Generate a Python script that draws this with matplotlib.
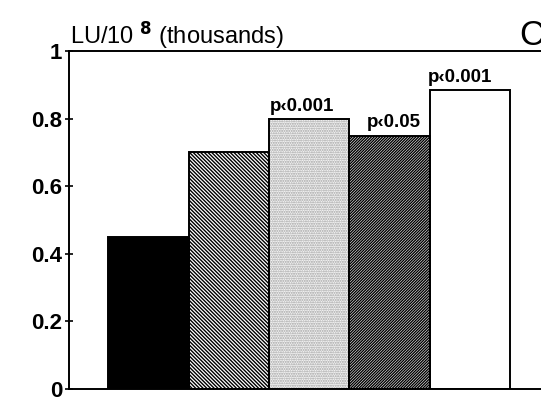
import matplotlib.pyplot as plt

plt.rcParams['font.family'] = ['Liberation Sans', 'DejaVu Sans']
plt.rcParams['mathtext.default'] = 'regular'
plt.rcParams['hatch.linewidth'] = 1.0

# data
values = [0.45, 0.70, 0.80, 0.75, 0.885]
pvals = ['', '', 'p\u20390.001', 'p\u20390.05', 'p\u20390.001']
yticks = [0, 0.2, 0.4, 0.6, 0.8, 1]
yticklabels = ['0', '0.2', '0.4', '0.6', '0.8', '1']

# styles
faces = ['black', 'white', '#f4f4f4', 'white', 'white']
hatches = ['', '\\' * 9, '.' * 7, '/' * 12, '']
hatch_cols = ['black', 'black', '#a0a0a0', 'black', 'black']
label_dx = [0, 0, -0.09, 0.05, -0.12]

W, H = 541, 399
fig = plt.figure(figsize=(W / 100, H / 100), dpi=100)
ax = fig.add_axes([69 / W, (H - 389) / H, 1 - 69 / W + 0.01, 338 / H])

x = range(len(values))
ax.bar(x, values, width=1.0, color=faces, edgecolor=hatch_cols,
       hatch=hatches, linewidth=0)
ax.bar(x, values, width=1.0, fill=False, edgecolor='black', linewidth=1.4)

for i, (v, p) in enumerate(zip(values, pvals)):
    if p:
        ax.text(i + label_dx[i], v + 0.012, p, ha='center', va='bottom',
                fontsize=13.5, fontweight='bold')

ax.set_xlim(-0.99, 4.95)
ax.set_ylim(0, 1)
ax.set_yticks(yticks)
ax.set_yticklabels(yticklabels, fontsize=16, fontweight='bold')
ax.set_xticks([])
ax.tick_params(axis='y', direction='inout', length=6, width=1.2, pad=2)
ax.spines['right'].set_visible(False)
for s in ['left', 'bottom', 'top']:
    ax.spines[s].set_linewidth(1.4)

fig.text(70 / W, (H - 44) / H, 'LU/10 $^{\\bf{8}}$ (thousands)', fontsize=17,
         ha='left', va='baseline')
fig.text(519 / W, (H - 45) / H, 'C', fontsize=25, ha='left', va='baseline')

fig.savefig('out.png', dpi=100)
